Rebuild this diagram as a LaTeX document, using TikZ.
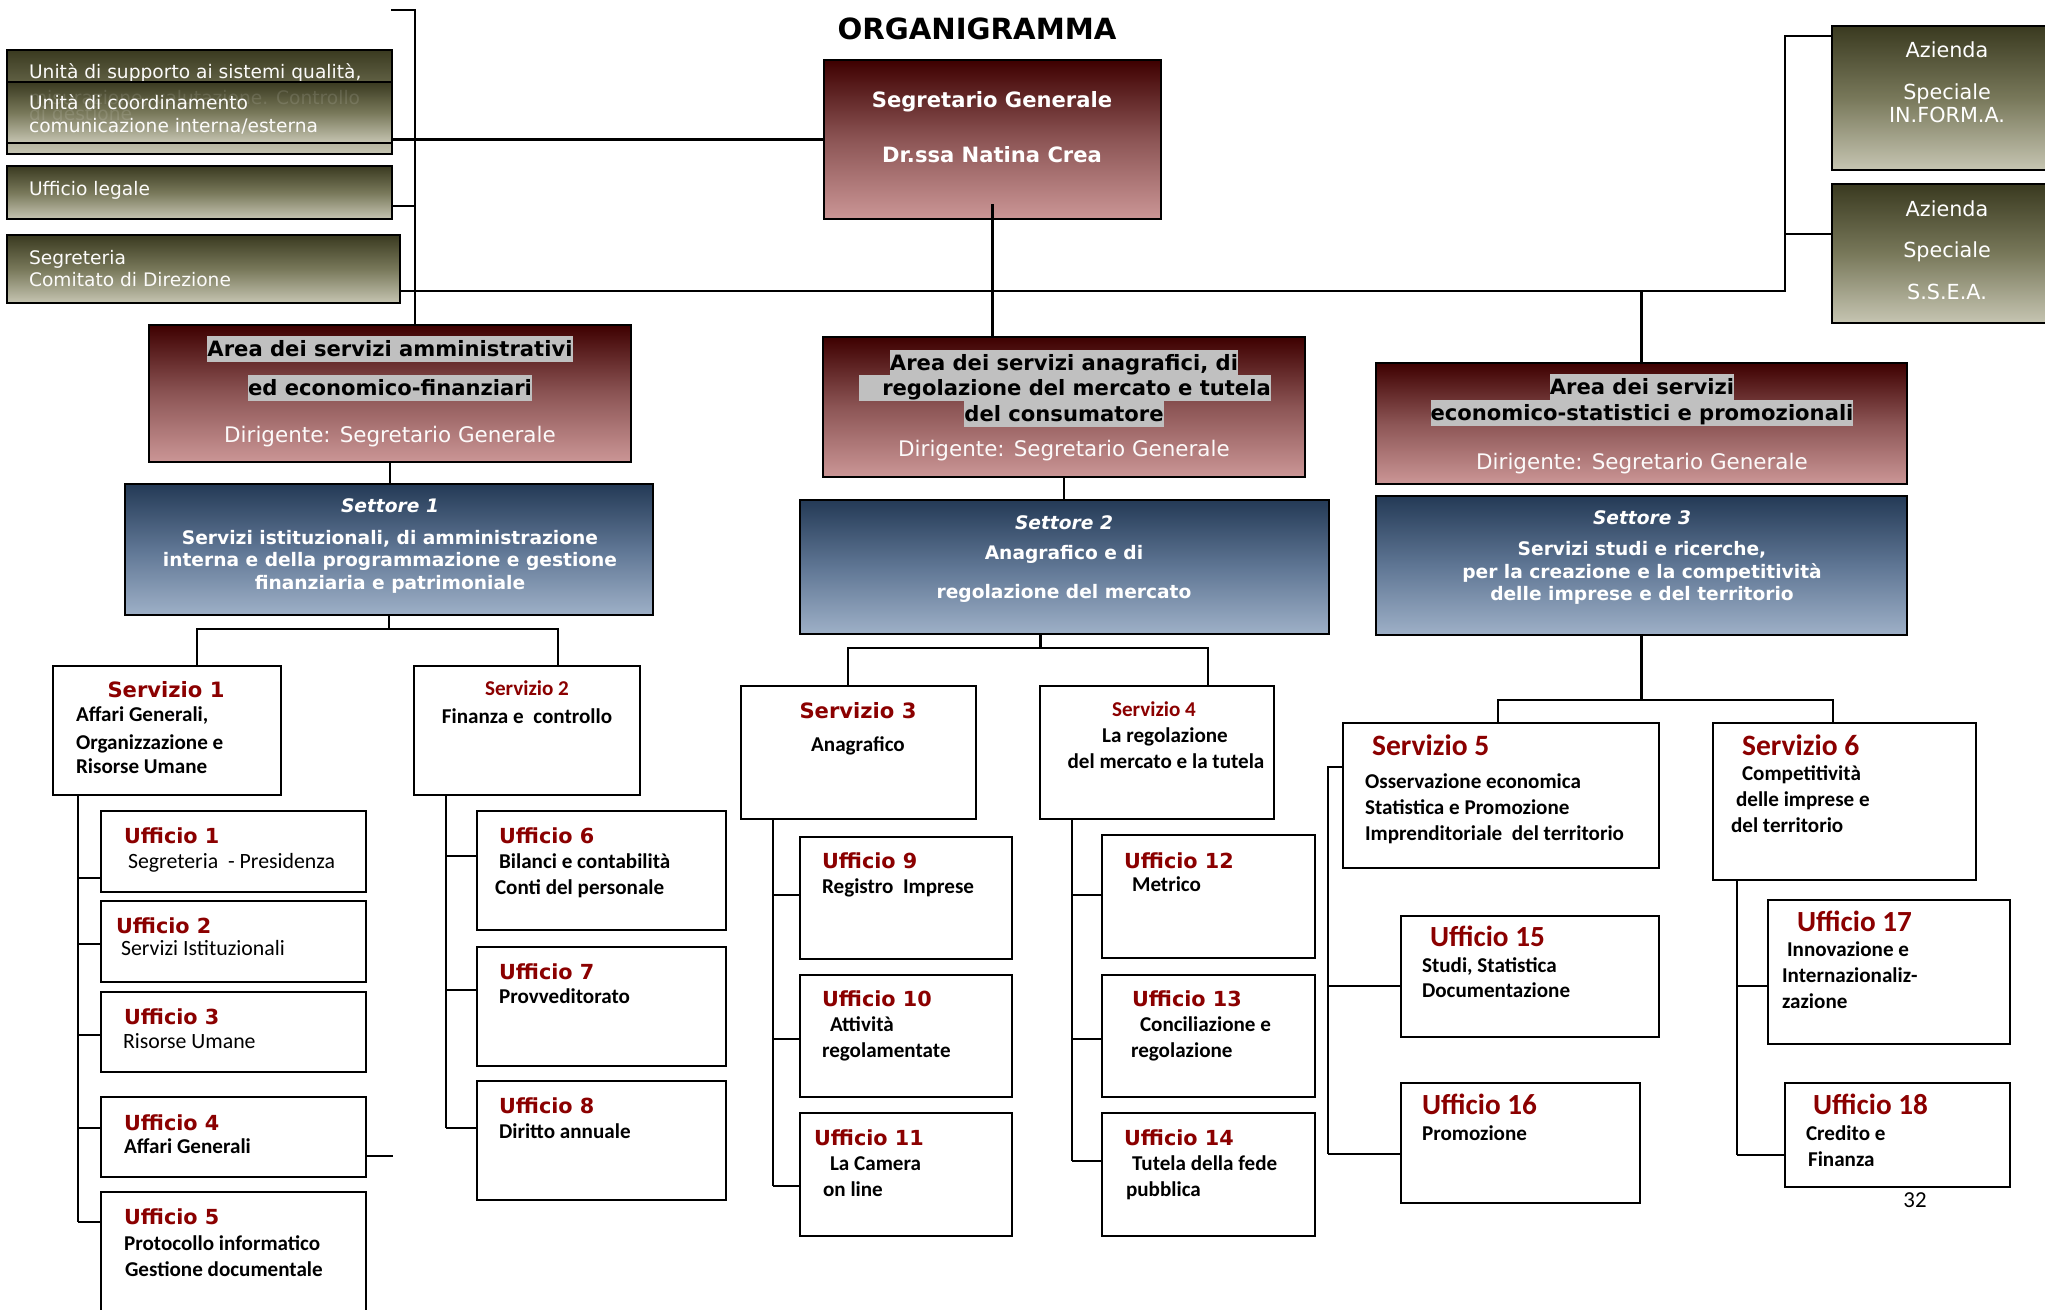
\documentclass[tikz,border=0pt]{standalone}
\usepackage{fontspec}
\setmainfont{DejaVu Sans}
\newfontfamily\calibri{Carlito}
\usetikzlibrary{fit, calc}

\newcommand{\fs}[1]{\fontsize{#1}{#1}\selectfont}

\definecolor{rosso}{RGB}{139,0,0}
\definecolor{marTop}{RGB}{62,0,0}
\definecolor{marMid}{RGB}{140,85,85}
\definecolor{marBot}{RGB}{203,150,150}
\definecolor{navTop}{RGB}{36,58,86}
\definecolor{navMid}{RGB}{95,118,148}
\definecolor{navBot}{RGB}{158,176,199}
\definecolor{oliTop}{RGB}{58,58,32}
\definecolor{oliMid}{RGB}{120,120,90}
\definecolor{oliBot}{RGB}{198,197,178}
\definecolor{grigio}{RGB}{192,192,192}

\tikzset{
  casella/.style={draw=black, line width=0.6pt, fill=white, inner sep=0pt},
  rossa/.style={draw=black, line width=0.8pt, inner sep=0pt, top color=marTop, bottom color=marBot, middle color=marMid},
  blu/.style={draw=black, line width=0.8pt, inner sep=0pt, top color=navTop, bottom color=navBot, middle color=navMid},
  oliva/.style={draw=black, line width=0.7pt, inner sep=0pt, top color=oliTop, bottom color=oliBot, middle color=oliMid},
  txt/.style={inner sep=0pt, anchor=base west},
  txtc/.style={inner sep=0pt, anchor=base},
  staff/.style={text=white!94!oliBot, font=\fs{5.3}},
  azt/.style={txtc, text=white, font=\fs{5.9}},
  sgt/.style={txtc, text=white, font=\bfseries\fs{6}},
  evid/.style={txtc, fill=grigio, text height=0.21cm, text depth=0.05cm, font=\bfseries\fs{6}},
  dirt/.style={txtc, text=white!95!marBot, font=\fs{6.1}},
  sett/.style={txtc, text=white, font=\bfseries\fs{5.3}},
  vtit/.style={text=rosso, font=\bfseries\fs{5.9}},
  ctit/.style={text=rosso, font=\calibri\bfseries\fs{8.3}},
  cbody/.style={font=\calibri\bfseries\fs{6}},
  creg/.style={font=\calibri\fs{6.2}}
}

\begin{document}
\begin{tikzpicture}[x=0.01cm, y=-0.01cm, line width=0.6pt]
\useasboundingbox (0,0) rectangle (2045,1310);

% titolo
\node[txtc, font=\bfseries\fs{8.3}] (titolo) at (977,40) {ORGANIGRAMMA};

% unita di staff
\node[oliva, fit={(7,50) (392,154)}] (qual) {};
\node[txt, staff] (qual-1) at (28,79) {Unità di supporto ai sistemi qualità,};
\node[oliva, fit={(7,82) (392,143)}] (coord) {};
\node[txt, staff, text opacity=0.12] (qual-2) at (28,105) {misurazione, valutazione. Controllo};
\node[txt, staff, text opacity=0.12] (qual-3) at (28,121) {di gestione};
\node[txt, staff] (coord-1) at (28,110) {Unità di coordinamento};
\node[txt, staff] (coord-2) at (28,133) {comunicazione interna/esterna};
\node[oliva, fit={(7,166) (392,219)}] (legale) {};
\node[txt, staff] (legale-1) at (28,196) {Ufficio legale};
\node[oliva, fit={(7,235) (400,303)}] (segr) {};
\node[txt, staff] (segr-1) at (28,265) {Segreteria};
\node[txt, staff] (segr-2) at (28,287) {Comitato di Direzione};

% segretario generale
\node[rossa, fit={(824,60) (1161,219)}] (sg) {};
\node[sgt] (sg-1) at (992,108) {Segretario Generale};
\node[sgt] (sg-2) at (992,163) {Dr.ssa Natina Crea};

% aziende speciali
\node[oliva, fit={(1832,26) (2062,170)}] (az1) {};
\node[azt] (az1-1) at (1947,58) {Azienda};
\node[azt] (az1-2) at (1947,100) {Speciale};
\node[azt] (az1-3) at (1947,123) {IN.FORM.A.};
\node[oliva, fit={(1832,184) (2062,323)}] (az2) {};
\node[azt] (az2-1) at (1947,217) {Azienda};
\node[azt] (az2-2) at (1947,258) {Speciale};
\node[azt] (az2-3) at (1947,300) {S.S.E.A.};

% aree
\node[rossa, fit={(149,325) (631,462)}] (ar1) {};
\node[evid] (ar1-1) at (390,357) {Area dei servizi amministrativi};
\node[evid] (ar1-2) at (390,396) {ed economico-finanziari};
\node[dirt] (ar1-3) at (390,443) {Dirigente: Segretario Generale};
\node[rossa, fit={(823,337) (1305,477)}] (ar2) {};
\node[evid] (ar2-1) at (1064,371) {Area dei servizi anagrafici, di};
\node[evid] (ar2-2) at (1065,396) {\hspace{0.23cm}regolazione del mercato e tutela};
\node[evid] (ar2-3) at (1064,422) {del consumatore};
\node[dirt] (ar2-4) at (1064,457) {Dirigente: Segretario Generale};
\node[rossa, fit={(1376,363) (1907,484)}] (ar3) {};
\node[evid] (ar3-1) at (1642,395) {Area dei servizi};
\node[evid] (ar3-2) at (1642,421) {economico-statistici e promozionali};
\node[dirt] (ar3-3) at (1642,470) {Dirigente: Segretario Generale};

% settori
\node[blu, fit={(125,484) (653,615)}] (set1) {};
\node[sett, font=\bfseries\itshape\fs{5.3}] (set1-0) at (390,513) {Settore 1};
\node[sett] (set1-1) at (390,545) {Servizi istituzionali, di amministrazione};
\node[sett] (set1-2) at (390,567) {interna e della programmazione e gestione};
\node[sett] (set1-3) at (390,590) {finanziaria e patrimoniale};
\node[blu, fit={(800,500) (1329,634)}] (set2) {};
\node[sett, font=\bfseries\itshape\fs{5.3}] (set2-0) at (1064,530) {Settore 2};
\node[sett] (set2-1) at (1064,560) {Anagrafico e di};
\node[sett] (set2-2) at (1064,599) {regolazione del mercato};
\node[blu, fit={(1376,496) (1907,635)}] (set3) {};
\node[sett, font=\bfseries\itshape\fs{5.3}] (set3-0) at (1642,525) {Settore 3};
\node[sett] (set3-1) at (1642,556) {Servizi studi e ricerche,};
\node[sett] (set3-2) at (1642,579) {per la creazione e la competitività};
\node[sett] (set3-3) at (1642,601) {delle imprese e del territorio};

% servizi
\node[casella, fit={(53,666) (281,795)}] (serv1) {};
\node[txtc, vtit, font=\bfseries\fs{6}] (serv1-0) at (166,698) {Servizio 1};
\node[txt, cbody] (serv1-1) at (75,722) {Affari Generali,};
\node[txt, cbody] (serv1-2) at (75,750) {Organizzazione e};
\node[txt, cbody] (serv1-3) at (75,774) {Risorse Umane};
\node[casella, fit={(414,666) (640,795)}] (serv2) {};
\node[txtc, vtit, font=\calibri\bfseries\fs{6}] (serv2-0) at (527,696) {Servizio 2};
\node[txtc, cbody] (serv2-1) at (527,724) {Finanza e\ \ controllo};
\node[casella, fit={(741,686) (976,819)}] (serv3) {};
\node[txtc, vtit, font=\bfseries\fs{6}] (serv3-0) at (858,719) {Servizio 3};
\node[txtc, cbody] (serv3-1) at (858,752) {Anagrafico};
\node[casella, fit={(1040,686) (1274,819)}] (serv4) {};
\node[txtc, vtit, font=\calibri\bfseries\fs{6}] (serv4-0) at (1154,717) {Servizio 4};
\node[txtc, cbody] (serv4-1) at (1165,743) {La regolazione};
\node[txtc, cbody] (serv4-2) at (1166,769) {del mercato e la tutela};
\node[casella, fit={(1343,723) (1659,868)}] (serv5) {};
\node[txt, ctit, font=\calibri\bfseries\fs{8.4}] (serv5-0) at (1371,756) {Servizio 5};
\node[txt, cbody] (serv5-1) at (1364,789) {Osservazione economica};
\node[txt, cbody] (serv5-2) at (1364,815) {Statistica e Promozione};
\node[txt, cbody] (serv5-3) at (1364,841) {Imprenditoriale\ \ del territorio};
\node[casella, fit={(1713,723) (1976,880)}] (serv6) {};
\node[txt, ctit, font=\calibri\bfseries\fs{8.4}] (serv6-0) at (1741,756) {Servizio 6};
\node[txt, cbody] (serv6-1) at (1741,781) {Competitività};
\node[txt, cbody] (serv6-2) at (1735,807) {delle imprese e};
\node[txt, cbody] (serv6-3) at (1730,833) {del territorio};

% uffici servizio 1
\node[casella, fit={(101,811) (366,892)}] (uff1) {};
\node[txt, vtit] (uff1-0) at (123,844) {Ufficio 1};
\node[txt, creg] (uff1-1) at (127,869) {Segreteria\ \ - Presidenza};
\node[casella, fit={(101,901) (366,982)}] (uff2) {};
\node[txt, vtit] (uff2-0) at (115,934) {Ufficio 2};
\node[txt, creg] (uff2-1) at (120,956) {Servizi Istituzionali};
\node[casella, fit={(101,992) (366,1072)}] (uff3) {};
\node[txt, vtit] (uff3-0) at (123,1025) {Ufficio 3};
\node[txt, creg] (uff3-1) at (122,1049) {Risorse Umane};
\node[casella, fit={(101,1097) (366,1177)}] (uff4) {};
\node[txt, vtit] (uff4-0) at (123,1130) {Ufficio 4};
\node[txt, cbody] (uff4-1) at (123,1154) {Affari Generali};
\node[casella, fit={(101,1192) (366,1340)}] (uff5) {};
\node[txt, vtit] (uff5-0) at (123,1225) {Ufficio 5};
\node[txt, cbody] (uff5-1) at (123,1250) {Protocollo informatico};
\node[txt, cbody] (uff5-2) at (124,1277) {Gestione documentale};

% uffici servizio 2
\node[casella, fit={(477,811) (726,930)}] (uff6) {};
\node[txt, vtit] (uff6-0) at (498,844) {Ufficio 6};
\node[txt, cbody] (uff6-1) at (498,869) {Bilanci e contabilità};
\node[txt, cbody] (uff6-2) at (494,895) {Conti del personale};
\node[casella, fit={(477,947) (726,1066)}] (uff7) {};
\node[txt, vtit] (uff7-0) at (498,980) {Ufficio 7};
\node[txt, cbody] (uff7-1) at (498,1004) {Provveditorato};
\node[casella, fit={(477,1081) (726,1200)}] (uff8) {};
\node[txt, vtit] (uff8-0) at (498,1114) {Ufficio 8};
\node[txt, cbody] (uff8-1) at (498,1139) {Diritto annuale};

% uffici servizio 3
\node[casella, fit={(800,837) (1012,959)}] (uff9) {};
\node[txt, vtit] (uff9-0) at (821,869) {Ufficio 9};
\node[txt, cbody] (uff9-1) at (821,894) {Registro\ \ Imprese};
\node[casella, fit={(800,975) (1012,1097)}] (uff10) {};
\node[txt, vtit] (uff10-0) at (821,1007) {Ufficio 10};
\node[txt, cbody] (uff10-1) at (829,1032) {Attività};
\node[txt, cbody] (uff10-2) at (821,1058) {regolamentate};
\node[casella, fit={(800,1113) (1012,1236)}] (uff11) {};
\node[txt, vtit] (uff11-0) at (813,1146) {Ufficio 11};
\node[txt, cbody] (uff11-1) at (829,1170) {La Camera};
\node[txt, cbody] (uff11-2) at (822,1196) {on line};

% uffici servizio 4
\node[casella, fit={(1102,835) (1315,958)}] (uff12) {};
\node[txt, vtit] (uff12-0) at (1123,869) {Ufficio 12};
\node[txt, cbody] (uff12-1) at (1131,892) {Metrico};
\node[casella, fit={(1102,975) (1315,1097)}] (uff13) {};
\node[txt, vtit] (uff13-0) at (1131,1007) {Ufficio 13};
\node[txt, cbody] (uff13-1) at (1139,1032) {Conciliazione e};
\node[txt, cbody] (uff13-2) at (1130,1058) {regolazione};
\node[casella, fit={(1102,1113) (1315,1236)}] (uff14) {};
\node[txt, vtit] (uff14-0) at (1123,1146) {Ufficio 14};
\node[txt, cbody] (uff14-1) at (1131,1170) {Tutela della fede};
\node[txt, cbody] (uff14-2) at (1125,1196) {pubblica};

% uffici servizi 5 e 6
\node[casella, fit={(1401,916) (1659,1037)}] (uff15) {};
\node[txt, ctit] (uff15-0) at (1429,947) {Ufficio 15};
\node[txt, cbody] (uff15-1) at (1421,973) {Studi, Statistica};
\node[txt, cbody] (uff15-2) at (1421,998) {Documentazione};
\node[casella, fit={(1401,1083) (1640,1203)}] (uff16) {};
\node[txt, ctit] (uff16-0) at (1421,1115) {Ufficio 16};
\node[txt, cbody] (uff16-1) at (1421,1141) {Promozione};
\node[casella, fit={(1768,900) (2010,1044)}] (uff17) {};
\node[txt, ctit] (uff17-0) at (1796,932) {Ufficio 17};
\node[txt, cbody] (uff17-1) at (1786,957) {Innovazione e};
\node[txt, cbody] (uff17-2) at (1781,983) {Internazionaliz-};
\node[txt, cbody] (uff17-3) at (1781,1009) {zazione};
\node[casella, fit={(1785,1083) (2010,1187)}] (uff18) {};
\node[txt, ctit] (uff18-0) at (1812,1115) {Ufficio 18};
\node[txt, cbody] (uff18-1) at (1805,1141) {Credito e};
\node[txt, cbody] (uff18-2) at (1807,1166) {Finanza};

\node[txtc, font=\calibri\fs{6.5}] (pagina) at (1915,1208) {32};

% collegamenti in alto
\coordinate (busL) at (415,10);
\coordinate (tick) at (391,10);
\coordinate (busR) at (1785,291);
\coordinate (a1k) at ([yshift=-0.11cm]az1.north west);
\coordinate (a2k) at ([yshift=-0.51cm]az2.north west);
\draw (tick) -- (busL) -- (busL |- ar1.north);
\draw (coord.east |- sg.west) -- (sg.west);
\draw ([yshift=-0.135cm]legale.east) -- ([yshift=-0.135cm]legale.east -| busL);
\draw (segr.east |- busR) -- (busR) -- (busR |- a1k) -- (a1k);
\draw (busR |- a2k) -- (a2k);
\draw (ar3.north |- busR) -- (ar3.north);
\draw ([yshift=0.16cm]sg.south) -- (sg.south |- ar2.north);
\draw (ar1.south) -- (ar1.south |- set1.north);
\draw (ar2.south) -- (ar2.south |- set2.north);

% settori -> servizi
\coordinate (s1k) at (197,629);
\coordinate (s2k) at (558,629);
\coordinate (s3k) at (848,648);
\coordinate (s4k) at (1208,648);
\coordinate (s5k) at (1498,700);
\coordinate (s6k) at (1833,700);
\draw (set1.south) -- (set1.south |- s1k);
\draw (s1k |- serv1.north) -- (s1k) -- (s2k) -- (s2k |- serv2.north);
\draw ([xshift=-0.24cm]set2.south) -- ([xshift=-0.24cm]set2.south |- s3k);
\draw (s3k |- serv3.north) -- (s3k) -- (s4k) -- (s4k |- serv4.north);
\draw (set3.south) -- (set3.south |- s5k);
\draw (s5k |- serv5.north) -- (s5k) -- (s6k) -- (s6k |- serv6.north);

% servizi -> uffici
\coordinate (b1) at (78,0);
\coordinate (b2) at (446,0);
\coordinate (b3) at (773,0);
\coordinate (b4) at (1072,0);
\coordinate (b5) at (1328,0);
\coordinate (b6) at (1737,0);
\draw (b1 |- serv1.south) -- ([yshift=-0.31cm]uff5.north west -| b1);
\foreach \u/\d in {uff1/0.68, uff2/0.44, uff3/0.44, uff4/0.32, uff5/0.31}
  \draw ([yshift=-\d cm]\u.north west) -- ([yshift=-\d cm]\u.north west -| b1);
\draw (b2 |- serv2.south) -- ([yshift=-0.48cm]uff8.north west -| b2);
\foreach \u/\d in {uff6/0.46, uff7/0.44, uff8/0.48}
  \draw ([yshift=-\d cm]\u.north west) -- ([yshift=-\d cm]\u.north west -| b2);
\draw (b3 |- serv3.south) -- ([yshift=-0.74cm]uff11.north west -| b3);
\foreach \u/\d in {uff9/0.59, uff10/0.65, uff11/0.74}
  \draw ([yshift=-\d cm]\u.north west) -- ([yshift=-\d cm]\u.north west -| b3);
\draw (b4 |- serv4.south) -- ([yshift=-0.49cm]uff14.north west -| b4);
\foreach \u/\d in {uff12/0.61, uff13/0.65, uff14/0.49}
  \draw ([yshift=-\d cm]\u.north west) -- ([yshift=-\d cm]\u.north west -| b4);
\draw ([yshift=-0.45cm]serv5.north west) -- ([yshift=-0.45cm]serv5.north west -| b5)
  -- ([yshift=-0.72cm]uff16.north west -| b5);
\foreach \u/\d in {uff15/0.71, uff16/0.72}
  \draw ([yshift=-\d cm]\u.north west) -- ([yshift=-\d cm]\u.north west -| b5);
\draw (b6 |- serv6.south) -- ([yshift=-0.73cm]uff18.north west -| b6);
\foreach \u/\d in {uff17/0.87, uff18/0.73}
  \draw ([yshift=-\d cm]\u.north west) -- ([yshift=-\d cm]\u.north west -| b6);

\coordinate (u4end) at (393,1156);
\draw (uff4.east |- u4end) -- (u4end);
\end{tikzpicture}
\end{document}
